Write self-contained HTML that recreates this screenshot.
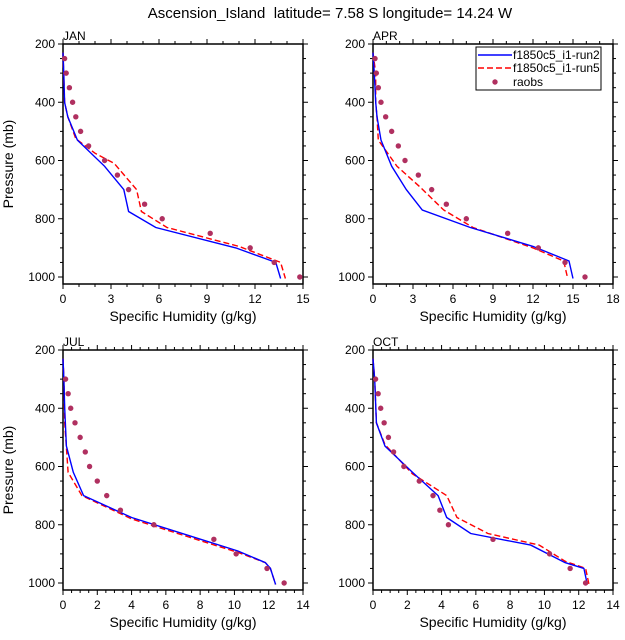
<!DOCTYPE html>
<html><head><meta charset="utf-8"><style>
html,body{margin:0;padding:0;background:#fff;}
svg{display:block;font-family:"Liberation Sans",Arial,sans-serif;}
</style></head><body>
<svg id="s" width="625" height="640" viewBox="0 0 625 640" xmlns="http://www.w3.org/2000/svg">
<text x="330" y="18" font-size="15" text-anchor="middle" style="white-space:pre">Ascension_Island  latitude= 7.58 S longitude= 14.24 W</text>
</svg>
<script>
var s=document.getElementById('s'),out='';
function P(o){
 var X0=o.x,Y0=o.y,W=240,H=240;
 var px=function(v){return X0+v/o.max*W}, py=function(p){return Y0+(p-200)*0.29125};
 out+='<text x="'+X0+'" y="'+(Y0-4)+'" font-size="12">'+o.name+'</text>';
 out+='<rect x="'+X0+'" y="'+Y0+'" width="'+W+'" height="'+H+'" fill="none" stroke="#000" stroke-width="1.5"/>';
 for(var p=200;p<=1000;p+=50){var y=py(p),maj=(p%200==0),l=maj?5:3;
  out+='<line x1="'+(X0-l)+'" x2="'+X0+'" y1="'+y+'" y2="'+y+'" stroke="#000"/><line x1="'+(X0+W)+'" x2="'+(X0+W+l)+'" y1="'+y+'" y2="'+y+'" stroke="#000"/>';
  if(maj)out+='<text x="'+(X0-8)+'" y="'+(y+4)+'" font-size="12" text-anchor="end">'+p+'</text>';}
 for(var v=0;v<=o.max+1e-9;v+=o.minor){var x=px(v),maj=Math.abs(v/o.step-Math.round(v/o.step))<1e-6,l=maj?5:3;
  out+='<line x1="'+x+'" x2="'+x+'" y1="'+(Y0+H)+'" y2="'+(Y0+H+l)+'" stroke="#000"/><line x1="'+x+'" x2="'+x+'" y1="'+(Y0-l)+'" y2="'+Y0+'" stroke="#000"/>';
  if(maj)out+='<text x="'+x+'" y="'+(Y0+H+19)+'" font-size="12" text-anchor="middle">'+Math.round(v)+'</text>';}
 out+='<text x="'+(X0+W/2)+'" y="'+(Y0+H+37)+'" font-size="14" text-anchor="middle">Specific Humidity (g/kg)</text>';
 if(o.ylab)out+='<text transform="translate('+(X0-50)+','+(Y0+H/2)+') rotate(-90)" font-size="14" text-anchor="middle">Pressure (mb)</text>';
 function line(d,c,dash){out+='<polyline fill="none" stroke="'+c+'" stroke-width="1.4" '+(dash?'stroke-dasharray="6,3"':'')+' points="'+d.map(function(a){return px(a[0]).toFixed(1)+','+py(a[1]).toFixed(1)}).join(' ')+'"/>';}
 line(o.r,'#ff0000',1);line(o.b,'#0000ff',0);
 o.o.forEach(function(a){if(a[0]!==null)out+='<circle cx="'+px(a[0])+'" cy="'+py(a[1])+'" r="2.7" fill="#b03060"/>';});
}
var L=[250,300,350,400,450,500,550,600,650,700,750,800,850,900,950,1000];
function ob(v){return v.map(function(x,i){return [x,L[i]]});}
P({name:'JAN',x:63,y:44,max:15,step:3,minor:1,ylab:1,
 b:[[0,230],[0.05,300],[0.1,400],[0.3,450],[0.9,530],[2.6,620],[3.8,700],[4.1,775],[5.8,830],[10.8,900],[13.3,950],[13.6,1005]],
 r:[[0,230],[0.1,400],[0.3,450],[0.8,525],[2,575],[3.2,610],[4.6,700],[4.9,775],[6.5,830],[11,895],[13.6,950],[13.9,1005]],
 o:ob([0.1,0.2,0.4,0.6,0.8,1.1,1.6,2.6,3.4,4.1,5.1,6.2,9.2,11.7,13.2,14.8])});
P({name:'APR',x:373,y:44,max:18,step:3,minor:1,
 b:[[0,230],[0.1,300],[0.2,400],[0.3,450],[0.6,530],[1.4,620],[2.5,700],[3.7,770],[7.3,830],[12,895],[14.7,945],[15,1005]],
 r:[[0,230],[0.2,300],[0.2,400],[0.3,450],[0.4,530],[1.8,620],[3.5,690],[5.3,770],[7.5,830],[12,900],[14.3,945],[14.6,1005]],
 o:ob([0.15,0.25,0.4,0.6,0.95,1.4,1.9,2.4,3.4,4.4,5.5,7,10.1,12.4,14.4,15.9])});
P({name:'JUL',x:63,y:350,max:14,step:2,minor:0.5,ylab:1,
 b:[[0,230],[0.05,300],[0.1,400],[0.2,530],[0.6,620],[1.2,700],[4,775],[7.5,840],[10.2,890],[11.8,930],[12.1,950],[12.4,1005]],
 r:[[0,230],[0.05,300],[0.1,450],[0.3,620],[1.1,700],[4,780],[7.5,845],[10.2,895],[11.8,930],[12.1,950],[12.4,1005]],
 o:ob([null,0.15,0.3,0.45,0.7,1,1.3,1.55,2,2.55,3.35,5.3,8.8,10.1,11.9,12.9])});
P({name:'OCT',x:373,y:350,max:14,step:2,minor:0.5,
 b:[[0,230],[0.1,300],[0.2,450],[0.7,530],[2.3,620],[3.8,700],[4.3,775],[5.7,830],[9.2,870],[11.2,930],[12.3,950],[12.5,1005]],
 r:[[0,230],[0.1,300],[0.2,450],[0.7,525],[2.3,625],[4.3,700],[4.9,775],[6.7,830],[9.7,870],[11.2,925],[12.4,950],[12.6,1005]],
 o:ob([null,0.15,0.3,0.45,0.65,0.9,1.2,1.8,2.7,3.5,3.9,4.4,7,10.3,11.5,12.4])});
out+='<rect x="476" y="47" width="125" height="43" fill="#fff" stroke="#000"/>';
out+='<line x1="478" x2="512" y1="55" y2="55" stroke="#0000ff" stroke-width="1.4"/><text x="513" y="59" font-size="12">f1850c5_i1-run2</text>';
out+='<line x1="478" x2="512" y1="68" y2="68" stroke="#ff0000" stroke-width="1.4" stroke-dasharray="6,3"/><text x="513" y="72" font-size="12">f1850c5_i1-run5</text>';
out+='<circle cx="495" cy="82" r="2.7" fill="#b03060"/><text x="513" y="86" font-size="12">raobs</text>';
s.insertAdjacentHTML('beforeend',out);
</script>
</body></html>
